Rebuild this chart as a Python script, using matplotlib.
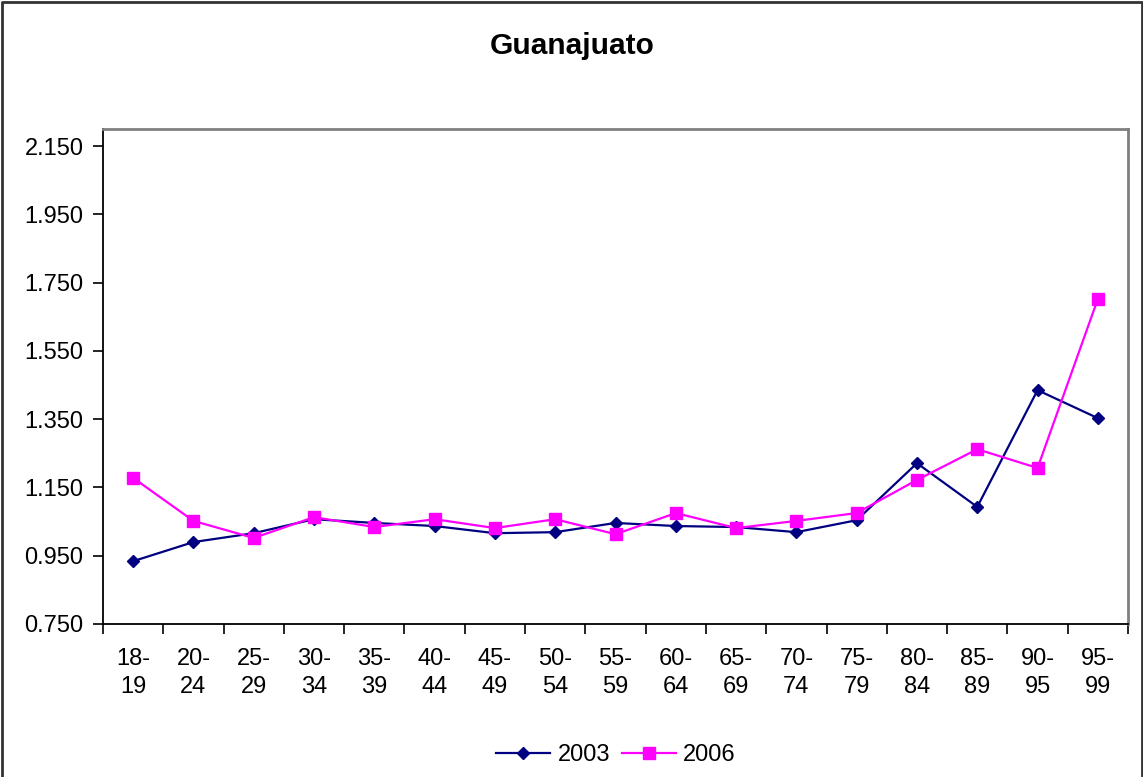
import matplotlib
matplotlib.use('Agg')
import matplotlib.pyplot as plt
import numpy as np

plt.rcParams['font.family'] = ['Liberation Sans', 'DejaVu Sans']

# age groups
groups = ['18-\n19', '20-\n24', '25-\n29', '30-\n34', '35-\n39', '40-\n44', '45-\n49',
          '50-\n54', '55-\n59', '60-\n64', '65-\n69', '70-\n74', '75-\n79', '80-\n84',
          '85-\n89', '90-\n95', '95-\n99']

vals_2003 = [0.934, 0.990, 1.016, 1.057, 1.046, 1.037, 1.016, 1.019, 1.046,
             1.037, 1.034, 1.019, 1.054, 1.221, 1.093, 1.435, 1.353]
vals_2006 = [1.178, 1.052, 1.002, 1.063, 1.034, 1.057, 1.031, 1.057, 1.013,
             1.075, 1.031, 1.052, 1.075, 1.172, 1.262, 1.207, 1.702]

yticks = [0.75, 0.95, 1.15, 1.35, 1.55, 1.75, 1.95, 2.15]

fig = plt.figure(figsize=(11.43, 7.77), dpi=100)
ax = fig.add_axes([103 / 1143, 1 - 624 / 777, (1128 - 103) / 1143, (624 - 129) / 777])

x = np.arange(len(groups))
ax.plot(x, vals_2003, color='#000080', marker='D', markersize=6.5, linewidth=1.6, label='2003')
ax.plot(x, vals_2006, color='#FF00FF', marker='s', markersize=8, linewidth=1.6, label='2006')

ax.set_xlim(-0.5, len(groups) - 0.5)
ax.set_ylim(0.75, 2.2)
ax.set_yticks(yticks)
ax.set_yticklabels(['%.3f' % v for v in yticks], fontsize=17)
ax.set_xticks(x)
ax.set_xticklabels(groups, fontsize=17, linespacing=1.35)
ax.set_xticks(np.arange(-0.5, len(groups)), minor=True)
ax.tick_params(axis='x', which='major', length=0, pad=17)
ax.tick_params(axis='x', which='minor', length=7, width=1.2, color='black')
ax.tick_params(axis='y', length=7, width=1.2, pad=7)

for s in ['left', 'bottom']:
    ax.spines[s].set_color('black')
    ax.spines[s].set_linewidth(1.3)
for s in ['top', 'right']:
    ax.spines[s].set_color('#808080')
    ax.spines[s].set_linewidth(2)

fig.text(572 / 1143, 1 - 46 / 777, 'Guanajuato', fontsize=21.5, fontweight='bold',
         ha='center', va='center')

fig.legend(loc='center', bbox_to_anchor=(616 / 1143, 1 - 755 / 777), ncol=2,
           frameon=False, fontsize=17, handlelength=2.3, columnspacing=0.5,
           handletextpad=0.3)

# outer chart border
fig.add_artist(plt.Line2D([0.002, 0.002, 0.999, 0.999], [0, 0.997, 0.997, 0],
                          transform=fig.transFigure, color='#333333', linewidth=2))

fig.savefig('out.png', dpi=100)
